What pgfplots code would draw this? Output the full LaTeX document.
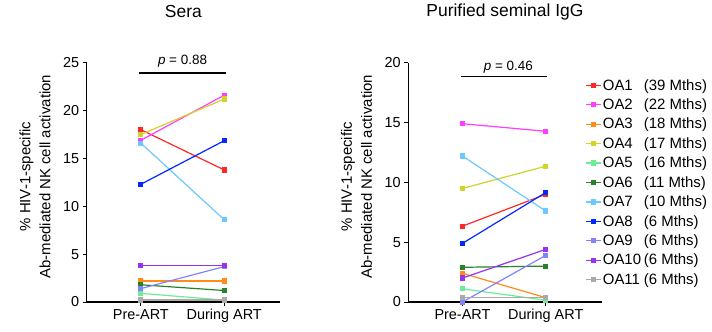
\documentclass[border=0pt]{standalone}
\usepackage{fontspec}
\setmainfont{Liberation Sans}
\usepackage{pgfplots}
\pgfplotsset{compat=1.18}
\definecolor{cOAa}{RGB}{255,40,40}
\definecolor{cOAb}{RGB}{255,60,255}
\definecolor{cOAc}{RGB}{255,140,20}
\definecolor{cOAd}{RGB}{210,210,40}
\definecolor{cOAe}{RGB}{110,235,150}
\definecolor{cOAf}{RGB}{40,130,40}
\definecolor{cOAg}{RGB}{110,200,255}
\definecolor{cOAh}{RGB}{0,40,255}
\definecolor{cOAi}{RGB}{130,130,255}
\definecolor{cOAj}{RGB}{150,50,240}
\definecolor{cOAk}{RGB}{170,170,170}
\pgfplotsset{
  myaxis/.style={
    scale only axis, width=193.3bp, height=239.3bp,
    axis x line=bottom, axis y line=left,
    axis line style={line width=1.5bp,-},
    xmin=-0.65, xmax=1.67, ymin=0,
    xtick={0,1}, xticklabels={Pre-ART,During ART},
    tick align=outside, major tick length=4bp,
    tick style={black, line width=1bp},
    clip=false,
    /pgf/number format/assume math mode=true,
    every tick label/.append style={font=\fontsize{14.5}{16}\selectfont},
    ylabel={\% HIV-1-specific\\Ab-mediated NK cell activation},
    ylabel style={at={(axis description cs:-0.2675,0.524)}, anchor=center, align=center, font=\fontsize{15}{20}\selectfont},
    title style={at={(axis description cs:0.5,1.188)}, anchor=center, font=\fontsize{17.5}{20}\selectfont},
    every axis plot/.append style={line width=1.2bp, mark=square*, mark size=2bp},
  },
}
\begin{document}
\begin{tikzpicture}
\begin{axis}[myaxis, at={(86.7bp,30bp)}, anchor=south west, ymax=25, ytick={0,5,10,15,20,25}, title={Sera}]
\addplot[cOAa] coordinates {(0,18.0) (1,13.8)};
\addplot[cOAb] coordinates {(0,16.9) (1,21.6)};
\addplot[cOAc] coordinates {(0,2.2) (1,2.2)};
\addplot[cOAd] coordinates {(0,17.5) (1,21.2)};
\addplot[cOAe] coordinates {(0,0.9) (1,0.2)};
\addplot[cOAf] coordinates {(0,1.8) (1,1.2)};
\addplot[cOAg] coordinates {(0,16.6) (1,8.6)};
\addplot[cOAh] coordinates {(0,12.3) (1,16.85)};
\addplot[cOAi] coordinates {(0,1.4) (1,3.7)};
\addplot[cOAj] coordinates {(0,3.8) (1,3.8)};
\addplot[cOAk] coordinates {(0,0.2) (1,0.2)};
\draw[line width=1.5bp] (axis cs:-0.02,23.9) -- (axis cs:1.02,23.9);
\node[font=\fontsize{13.5}{15}\selectfont] at (axis cs:0.5,25.2) {\textit{p} = 0.88};
\end{axis}
\begin{axis}[myaxis, at={(408.3bp,30bp)}, anchor=south west, ymax=20, ytick={0,5,10,15,20}, title={Purified seminal IgG},
  legend cell align=left,
  legend style={draw=none, fill=none, inner sep=0pt, row sep=4.1bp,
    font=\fontsize{15}{16}\selectfont, nodes={inner sep=1.5bp}},
  legend image code/.code={\draw[mark repeat=2,mark phase=2,#1] plot coordinates {(0bp,0bp) (7.5bp,0bp) (15bp,0bp)};},
  every axis legend/.append style={at={(axis description cs:0.914,0.938)}, anchor=north west},
]
\addplot[cOAa] coordinates {(0,6.34) (1,9.0)};
\addlegendentry{\makebox[41bp][l]{OA1}(39 Mths)}
\addplot[cOAb] coordinates {(0,14.9) (1,14.27)};
\addlegendentry{\makebox[41bp][l]{OA2}(22 Mths)}
\addplot[cOAc] coordinates {(0,2.4) (1,0.36)};
\addlegendentry{\makebox[41bp][l]{OA3}(18 Mths)}
\addplot[cOAd] coordinates {(0,9.49) (1,11.35)};
\addlegendentry{\makebox[41bp][l]{OA4}(17 Mths)}
\addplot[cOAe] coordinates {(0,1.1) (1,0.15)};
\addlegendentry{\makebox[41bp][l]{OA5}(16 Mths)}
\addplot[cOAf] coordinates {(0,2.9) (1,3.0)};
\addlegendentry{\makebox[41bp][l]{OA6}(11 Mths)}
\addplot[cOAg] coordinates {(0,12.2) (1,7.6)};
\addlegendentry{\makebox[41bp][l]{OA7}(10 Mths)}
\addplot[cOAh] coordinates {(0,4.9) (1,9.15)};
\addlegendentry{\makebox[41bp][l]{OA8}(6 Mths)}
\addplot[cOAi] coordinates {(0,0.0) (1,3.9)};
\addlegendentry{\makebox[41bp][l]{OA9}(6 Mths)}
\addplot[cOAj] coordinates {(0,2.0) (1,4.4)};
\addlegendentry{\makebox[41bp][l]{OA10}(6 Mths)}
\addplot[cOAk] coordinates {(0,0.36) (1,0.36)};
\addlegendentry{\makebox[41bp][l]{OA11}(6 Mths)}
\draw[line width=1.5bp] (axis cs:-0.02,18.84) -- (axis cs:1.02,18.84);
\node[font=\fontsize{13.5}{15}\selectfont] at (axis cs:0.55,19.6) {\textit{p} = 0.46};
\end{axis}
\pgfresetboundingbox
\useasboundingbox (0bp,0bp) rectangle (712bp,332bp);
\end{tikzpicture}
\end{document}
